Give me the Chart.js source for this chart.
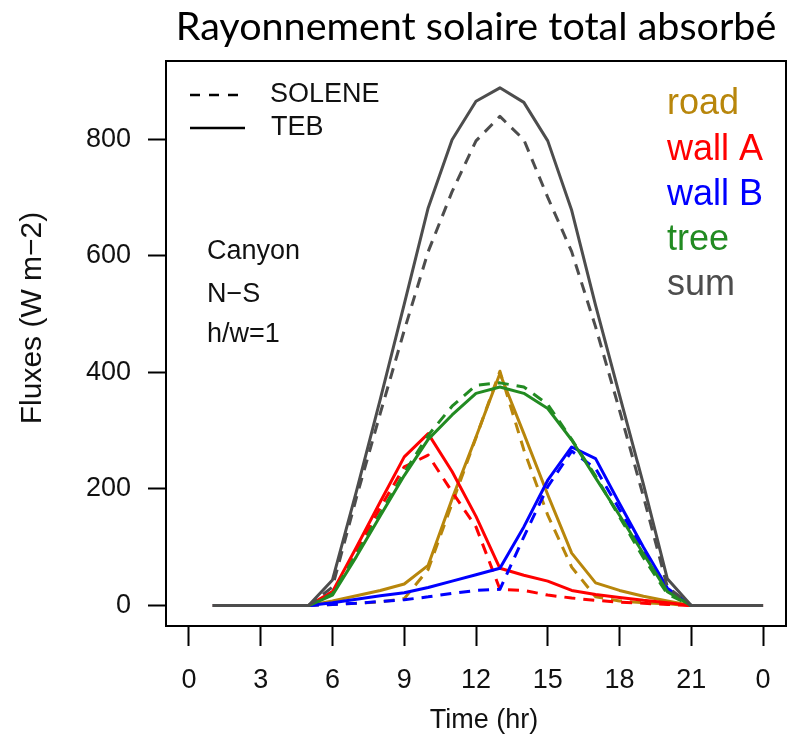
<!DOCTYPE html>
<html>
<head>
<meta charset="utf-8">
<title>Rayonnement solaire total absorbé</title>
<script src="https://cdn.jsdelivr.net/npm/chart.js@4.4.1/dist/chart.umd.min.js"></script>
<style>
  html, body { margin: 0; padding: 0; background: #ffffff; }
  #wrap { width: 800px; height: 737px; }
</style>
</head>
<body>
<div id="wrap"><canvas id="fluxChart" width="800" height="737"></canvas></div>
<script>
// hourly values, W m-2 (hour 1 .. 24)
const hours = [1, 2, 3, 4, 5, 6, 7, 8, 9, 10, 11, 12, 13, 14, 15, 16, 17, 18, 19, 20, 21, 22, 23, 24];
const xTickValues = [0, 3, 6, 9, 12, 15, 18, 21, 24];
const yTickValues = [0, 200, 400, 600, 800];

// TEB = solid, SOLENE = dashed
const roadTeb      = [0, 0, 0, 0, 0, 8, 17, 26, 37, 69, 183, 289, 398, 295, 190, 90, 39, 26, 16, 8, 0, 0, 0, 0];
const roadSolene   = [0, 0, 0, 0, 0, 2, 4, 6, 12, 62, 175, 288, 402, 267, 155, 66, 15, 8, 5, 3, 0, 0, 0, 0];
const wallATeb     = [0, 0, 0, 0, 0, 24, 100, 178, 255, 295, 230, 153, 64, 52, 42, 26, 19, 14, 9, 5, 0, 0, 0, 0];
const wallASolene  = [0, 0, 0, 0, 0, 20, 93, 168, 238, 258, 195, 135, 28, 26, 18, 13, 9, 6, 4, 2, 0, 0, 0, 0];
const wallBTeb     = [0, 0, 0, 0, 0, 5, 11, 17, 22, 31, 42, 53, 64, 135, 215, 272, 252, 175, 100, 30, 0, 0, 0, 0];
const wallBSolene  = [0, 0, 0, 0, 0, 2, 4, 7, 10, 15, 21, 26, 28, 118, 204, 265, 235, 165, 95, 27, 0, 0, 0, 0];
const treeTeb      = [0, 0, 0, 0, 0, 18, 84, 154, 223, 285, 327, 364, 375, 364, 338, 284, 219, 155, 89, 24, 0, 0, 0, 0];
const treeSolene   = [0, 0, 0, 0, 0, 20, 88, 158, 228, 292, 342, 378, 382, 375, 345, 285, 222, 152, 82, 20, 0, 0, 0, 0];
const sumTeb       = [0, 0, 0, 0, 0, 44, 196, 354, 517, 682, 799, 865, 888, 863, 797, 678, 515, 361, 208, 46, 0, 0, 0, 0];
const sumSolene    = [0, 0, 0, 0, 0, 32, 185, 330, 472, 607, 710, 797, 839, 799, 700, 607, 478, 335, 187, 32, 0, 0, 0, 0];

const surfaceNames  = ['road', 'wall A', 'wall B', 'tree', 'sum'];
const surfaceColors = ['#b8860b', '#ff0000', '#0000ff', '#228b22', '#4d4d4d'];
const tebSeries     = [roadTeb, wallATeb, wallBTeb, treeTeb, sumTeb];
const soleneSeries  = [roadSolene, wallASolene, wallBSolene, treeSolene, sumSolene];

const FONT = '"Liberation Sans", Arial, sans-serif';
const DASH = [11, 8];

const toPoints = vals => vals.map((v, i) => ({ x: hours[i], y: v }));

// dashed model first, then solid one, surface by surface; sum ends on top
const datasets = [];
surfaceNames.forEach((name, k) => {
  datasets.push({
    label: name + ' SOLENE', data: toPoints(soleneSeries[k]),
    borderColor: surfaceColors[k], borderDash: DASH
  });
  datasets.push({
    label: name + ' TEB', data: toPoints(tebSeries[k]),
    borderColor: surfaceColors[k]
  });
});
datasets.forEach((ds, i) => {
  ds.order = datasets.length - i;
  ds.borderWidth = 3;
  ds.pointRadius = 0;
  ds.tension = 0;
  ds.fill = false;
  ds.borderCapStyle = 'butt';
  ds.borderJoinStyle = 'round';
});

// frame, line-type key, colour key and text notes
const decorations = {
  id: 'decorations',
  afterDraw(chart) {
    const { ctx, chartArea: a } = chart;
    ctx.save();

    ctx.strokeStyle = '#000';
    ctx.lineWidth = 2;
    ctx.setLineDash([]);
    ctx.strokeRect(a.left, a.top, a.right - a.left, a.bottom - a.top);

    // SOLENE / TEB key
    ctx.lineWidth = 2.5;
    ctx.setLineDash([10, 9]);
    ctx.beginPath(); ctx.moveTo(190, 95); ctx.lineTo(240, 95); ctx.stroke();
    ctx.setLineDash([]);
    ctx.beginPath(); ctx.moveTo(190, 128); ctx.lineTo(245, 128); ctx.stroke();

    ctx.fillStyle = '#111';
    ctx.textAlign = 'left';
    ctx.textBaseline = 'middle';
    ctx.font = '27px ' + FONT;
    ctx.fillText('SOLENE', 270, 95);
    ctx.fillText('TEB', 271, 128);

    ctx.fillText('Canyon', 207, 252);
    ctx.fillText('N\u2212S', 207, 295);
    ctx.fillText('h/w=1', 207, 335);

    // surface colour key
    ctx.font = '36px ' + FONT;
    const keyY = [104, 150, 195, 240, 285];
    surfaceNames.forEach((name, k) => {
      ctx.fillStyle = surfaceColors[k];
      ctx.fillText(name, 667, keyY[k]);
    });

    // axis titles
    ctx.fillStyle = '#111';
    ctx.font = '27px ' + FONT;
    ctx.textAlign = 'center';
    ctx.fillText('Time (hr)', 484, 721);
    ctx.font = '30px ' + FONT;
    ctx.translate(33, 318);
    ctx.rotate(-Math.PI / 2);
    ctx.fillText('Fluxes (W m\u22122)', 0, 0);

    ctx.restore();
  }
};

const ctx = document.getElementById('fluxChart').getContext('2d');
new Chart(ctx, {
  type: 'line',
  data: { datasets: datasets },
  plugins: [decorations],
  options: {
    responsive: false,
    animation: false,
    devicePixelRatio: 1,
    layout: { padding: { left: 0, right: 14, top: 0, bottom: 0 } },
    plugins: {
      legend: { display: false },
      tooltip: { enabled: false },
      title: {
        display: true,
        fullSize: false,
        text: 'Rayonnement solaire total absorbé',
        color: '#000',
        font: { family: 'Lato, "Open Sans", sans-serif', size: 39.5, weight: 'normal', lineHeight: 1.2 },
        padding: { top: 4, bottom: 9.6 }
      }
    },
    scales: {
      x: {
        type: 'linear',
        min: -0.96,
        max: 24.96,
        afterFit: s => { s.height = 111; },
        afterBuildTicks: s => { s.ticks = xTickValues.map(v => ({ value: v })); },
        border: { display: false },
        grid: {
          drawOnChartArea: false,
          drawTicks: true,
          tickLength: 20,
          tickColor: '#000',
          tickWidth: 2
        },
        ticks: {
          autoSkip: false,
          maxRotation: 0,
          padding: 18,
          color: '#111',
          font: { family: FONT, size: 27 },
          callback: v => String(v % 24)
        }
      },
      y: {
        min: -35,
        max: 934,
        afterFit: s => { s.width = 166; },
        afterBuildTicks: s => { s.ticks = yTickValues.map(v => ({ value: v })); },
        border: { display: false },
        grid: {
          drawOnChartArea: false,
          drawTicks: true,
          tickLength: 18,
          tickColor: '#000',
          tickWidth: 2
        },
        ticks: {
          padding: 17,
          color: '#111',
          font: { family: FONT, size: 27 }
        }
      }
    }
  }
});
</script>
</body>
</html>
